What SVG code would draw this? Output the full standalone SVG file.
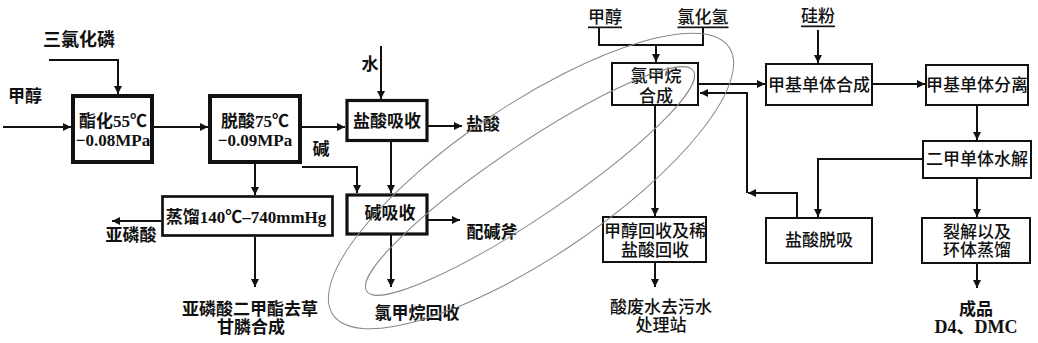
<svg xmlns="http://www.w3.org/2000/svg" width="1038" height="343" viewBox="0 0 1038 343">
<style>
text{font-family:"Liberation Serif","Noto Sans CJK SC",serif;fill:#111;text-anchor:middle;dominant-baseline:central}
.b{font-weight:700;font-size:17px}
.r{font-weight:500;font-size:17px}
.n{font-weight:700;font-size:17px}
.u{text-decoration:underline}
.thick{fill:#fff;stroke:#111;stroke-width:4}
.mid{fill:#fff;stroke:#111;stroke-width:3.2}
.med{fill:#fff;stroke:#111;stroke-width:2.7}
.thin{fill:#fff;stroke:#111;stroke-width:2}
.c path{fill:none;stroke:#111;stroke-width:2}
.c path.a{marker-end:url(#ah)}
.ell{fill:none;stroke:#888;stroke-width:1}
</style>
<defs>
<marker id="ah" viewBox="0 0 10 10" refX="10" refY="5" markerWidth="9" markerHeight="8" markerUnits="userSpaceOnUse" orient="auto"><path d="M0,0 L10,5 L0,10 z" fill="#111"/></marker>
</defs>
<rect width="1038" height="343" fill="#fff"/>

<g id="connectors" class="c">
<path class="a" d="M49,60 H118 V94"/>
<path class="a" d="M3,127 H71"/>
<path class="a" d="M154,127 H208"/>
<path class="a" d="M302,127 H345"/>
<path class="a" d="M381,46 V99"/>
<path class="a" d="M428,126 H462"/>
<path class="a" d="M302,167 H357 V193"/>
<path class="a" d="M391,142 V193"/>
<path class="a" d="M428,220 H460"/>
<path class="a" d="M391,235 V287"/>
<path class="a" d="M255,164 V195"/>
<path class="a" d="M161,221 H112"/>
<path class="a" d="M255,237 V287"/>
<path d="M599,28 V45 H703 V28"/>
<path class="a" d="M656,45 V62"/>
<path class="a" d="M699,84 H765"/>
<path class="a" d="M797,217 V193 H748"/>
<path class="a" d="M747,193 V93 H700"/>
<path class="a" d="M655,106 V216"/>
<path class="a" d="M655,263 V287"/>
<path class="a" d="M818,30 V63"/>
<path class="a" d="M873,84 H925"/>
<path class="a" d="M977,105 V140"/>
<path class="a" d="M922,159 H818 V217"/>
<path class="a" d="M977,178 V217"/>
<path class="a" d="M977,263 V288"/>
</g>

<g id="n-esterify"><rect class="thick" x="73" y="96" width="79" height="66"/><text class="b" x="113" y="121">酯化55℃</text><text class="n" x="113" y="140">−0.08MPa</text></g>
<g id="n-deacid"><rect class="thick" x="210" y="96" width="90" height="66"/><text class="b" x="255" y="121">脱酸75℃</text><text class="n" x="255" y="140">−0.09MPa</text></g>
<g id="n-hclabs"><rect class="mid" x="347" y="100.5" width="80" height="40"/><text class="b" x="387" y="121">盐酸吸收</text></g>
<g id="n-alkabs"><rect class="mid" x="347" y="195" width="80" height="39"/><text class="b" x="390" y="213">碱吸收</text></g>
<g id="n-distill"><rect class="med" x="162.5" y="196.5" width="170" height="39"/><text class="b" x="246" y="217">蒸馏140℃–740mmHg</text></g>

<g id="n-ch3cl"><rect class="thin" x="612" y="63" width="86" height="42"/><text class="r" x="656" y="76">氯甲烷</text><text class="r" x="656" y="96">合成</text></g>
<g id="n-meohrec"><rect class="thin" x="603" y="217" width="103" height="45"/><text class="r" x="655" y="231">甲醇回收及稀</text><text class="r" x="655" y="250">盐酸回收</text></g>
<g id="n-msyn"><rect class="thin" x="766" y="64" width="106" height="41"/><text class="r" x="819" y="85">甲基单体合成</text></g>
<g id="n-msep"><rect class="thin" x="926" y="65" width="102" height="40"/><text class="r" x="977" y="85">甲基单体分离</text></g>
<g id="n-hydro"><rect class="thin" x="923" y="141" width="108" height="37"/><text class="r" x="977" y="159">二甲单体水解</text></g>
<g id="n-hcldes"><rect class="thin" x="766" y="218" width="106" height="45"/><text class="r" x="819" y="240">盐酸脱吸</text></g>
<g id="n-crack"><rect class="thin" x="922" y="218" width="108" height="45"/><text class="r" x="977" y="232">裂解以及</text><text class="r" x="977" y="250">环体蒸馏</text></g>

<g id="labels">
<text class="b" x="79" y="40" style="font-size:18px">三氯化磷</text>
<text class="b" x="25" y="96">甲醇</text>
<text class="b" x="370" y="64">水</text>
<text class="b" x="483" y="124">盐酸</text>
<text class="b" x="321" y="149">碱</text>
<text class="b" x="492" y="232">配碱斧</text>
<text class="b" x="131" y="235">亚磷酸</text>
<text class="b" x="250" y="309">亚磷酸二甲酯去草</text>
<text class="b" x="251" y="327">甘膦合成</text>
<text class="b" x="417" y="313">氯甲烷回收</text>
<text class="r u" x="605" y="17">甲醇</text>
<text class="r u" x="703" y="17">氯化氢</text>
<text class="r u" x="818" y="16">硅粉</text>
<text class="r" x="661" y="307">酸废水去污水</text>
<text class="r" x="661" y="325">处理站</text>
<text class="b" x="976" y="309">成品</text>
<text class="b" x="976" y="327" style="font-size:18px">D4、DMC</text>
</g>

<g id="ellipses">
<ellipse class="ell" cx="531" cy="181" rx="239" ry="76" transform="rotate(-34 531 181)"/>
<ellipse class="ell" cx="530" cy="181" rx="197" ry="36" transform="rotate(-34 530 181)"/>
</g>
</svg>
